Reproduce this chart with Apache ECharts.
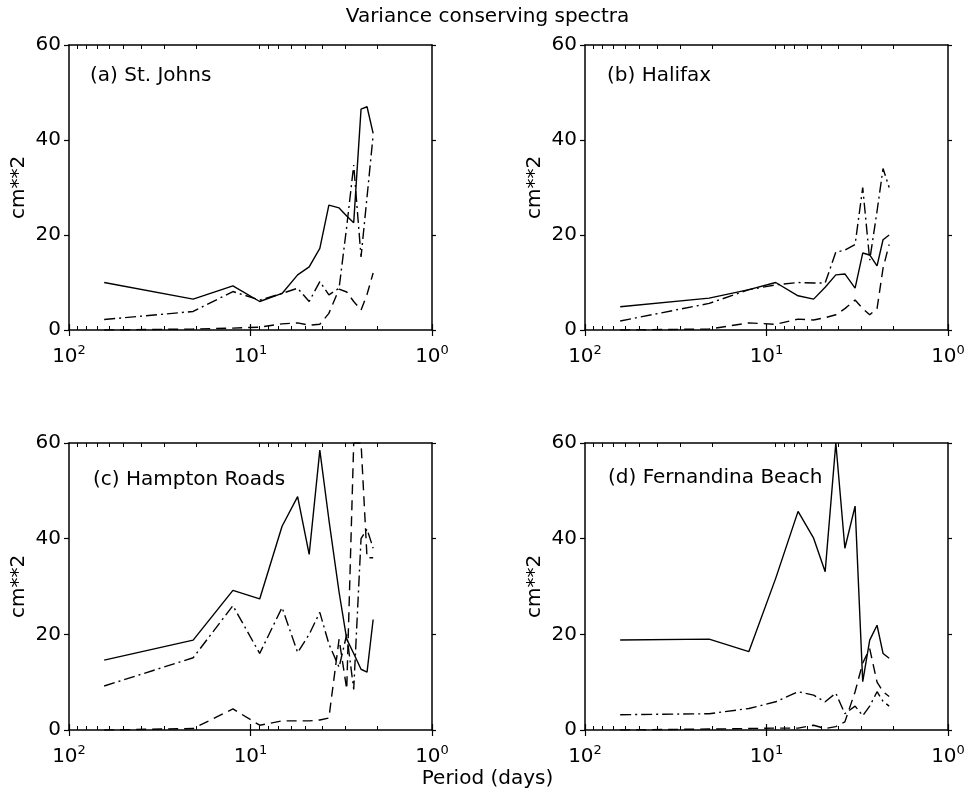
<!DOCTYPE html>
<html>
<head>
<meta charset="utf-8">
<script src="https://cdn.jsdelivr.net/npm/echarts@6/dist/echarts.min.js"></script>
<style>
  html, body { margin: 0; padding: 0; background: #fff; }
  #chart { width: 975px; height: 794px; }
</style>
</head>
<body>
<div id="chart"></div>
<script>
var chart = echarts.init(document.getElementById('chart'));

// periods (days) shared by every curve
var periods = [64, 20.7, 12.5, 8.9, 6.7, 5.5, 4.75, 4.15, 3.7, 3.25, 2.95, 2.7, 2.46, 2.28, 2.11];

// (a) St. Johns
var aSolid   = [10.0, 6.5, 9.3, 6.0, 7.7, 11.6, 13.3, 17.2, 26.3, 25.7, 24.0, 22.6, 46.5, 47.0, 41.4];
var aDashDot = [2.2, 3.9, 8.1, 6.3, 7.7, 8.8, 6.0, 10.2, 7.4, 8.8, 21.8, 34.7, 15.4, 28.0, 41.0];
var aDashed  = [0, 0.2, 0.4, 0.6, 1.3, 1.5, 1.0, 1.2, 3.5, 8.6, 8.0, 6.0, 4.2, 7.5, 12.0];

// (b) Halifax
var bSolid   = [4.9, 6.7, 8.5, 10.0, 7.2, 6.5, 9.0, 11.6, 11.8, 8.8, 16.2, 15.8, 13.5, 19.0, 20.0];
var bDashDot = [1.9, 5.6, 8.5, 9.5, 10.0, 9.9, 9.9, 16.4, 16.8, 18.0, 30.0, 14.7, 25.0, 34.0, 30.0];
var bDashed  = [0, 0.2, 1.5, 1.2, 2.3, 2.1, 2.6, 3.2, 4.5, 6.3, 4.5, 3.2, 4.5, 13.0, 18.0];

// (c) Hampton Roads
var cSolid   = [14.6, 18.8, 29.2, 27.4, 42.6, 48.8, 36.7, 58.5, 44.0, 28.8, 19.0, 16.0, 12.7, 12.1, 23.1];
var cDashDot = [9.2, 15.1, 26.0, 16.0, 25.6, 16.2, 20.0, 24.6, 18.0, 13.1, 20.0, 8.5, 40.0, 42.0, 38.0];
var cDashed  = [0, 0.3, 4.4, 1.0, 1.9, 1.9, 1.9, 2.1, 2.5, 19.0, 8.5, 60.0, 60.0, 36.0, 36.0];

// (d) Fernandina Beach
var dSolid   = [18.8, 19.0, 16.4, 31.7, 45.7, 40.1, 33.1, 60.0, 38.0, 46.8, 10.1, 18.8, 21.9, 16.0, 15.0];
var dDashDot = [3.2, 3.4, 4.5, 5.9, 8.0, 7.3, 5.9, 7.7, 3.4, 5.0, 3.0, 5.0, 8.0, 6.0, 5.0];
var dDashed  = [0, 0.2, 0.3, 0.4, 0.4, 1.0, 0.3, 0.7, 1.7, 8.0, 14.0, 17.0, 10.0, 8.0, 7.0];

var panelNames = ['(a) St. Johns', '(b) Halifax', '(c) Hampton Roads', '(d) Fernandina Beach'];
var minorPeriods = [2, 3, 4, 5, 6, 7, 8, 9, 20, 30, 40, 50, 60, 70, 80, 90];

var panels = [
  [aSolid, aDashDot, aDashed],
  [bSolid, bDashDot, bDashed],
  [cSolid, cDashDot, cDashed],
  [dSolid, dDashDot, dDashed]
];

var FONT = 'DejaVu Sans';
var grids = [
  {left: 69, top: 45, width: 363, height: 285},
  {left: 585, top: 45, width: 363, height: 285},
  {left: 69, top: 443, width: 363, height: 287},
  {left: 585, top: 443, width: 363, height: 287}
];
// where each panel name sits
var labelPos = [[85, 61], [602, 61], [88, 465], [603, 463]];

var xAxes = [], yAxes = [], series = [], titles = [];
var styles = ['solid', [11, 4, 2, 4], [10, 6]];

grids.forEach(function (g, i) {
  var base = xAxes.length;
  // main log axis (bottom)
  xAxes.push({
    type: 'log', logBase: 10, min: 1, max: 100, inverse: true, gridIndex: i,
    position: 'bottom',
    axisLine: {show: true, onZero: false, lineStyle: {color: '#000', width: 1.5}},
    axisTick: {show: true, length: 6, lineStyle: {color: '#000', width: 1.2}},
    splitLine: {show: false},
    axisLabel: {
      margin: 14,
      formatter: function (v) {
        return '{b|10}{s|' + Math.round(Math.log10(v)) + '}';
      },
      rich: {
        b: {fontFamily: FONT, fontSize: 20, color: '#000'},
        s: {fontFamily: FONT, fontSize: 13, color: '#000', padding: [0, 0, 12, 0]}
      }
    }
  });
  // minor log ticks, bottom and top
  ['bottom', 'top'].forEach(function (pos) {
    xAxes.push({
      type: 'value', min: 0, max: 2, inverse: true, gridIndex: i, position: pos,
      axisLine: {show: pos === 'top', onZero: false, lineStyle: {color: '#000', width: 1.5}},
      axisTick: {
        show: true, inside: true, length: 4,
        customValues: minorPeriods.map(function (p) { return Math.log10(p); }),
        lineStyle: {color: '#000', width: 1}
      },
      axisLabel: {show: false},
      splitLine: {show: false}
    });
  });
  // major ticks on top
  xAxes.push({
    type: 'value', min: 0, max: 2, inverse: true, gridIndex: i, position: 'top',
    axisLine: {show: false},
    axisTick: {show: true, length: 6, customValues: [0, 1, 2], lineStyle: {color: '#000', width: 1.2}},
    axisLabel: {show: false},
    splitLine: {show: false}
  });

  var yBase = yAxes.length;
  yAxes.push({
    type: 'value', min: 0, max: 60, interval: 20, gridIndex: i, position: 'left',
    name: 'cm**2', nameLocation: 'middle', nameGap: 40, nameRotate: 90,
    nameTextStyle: {fontFamily: FONT, fontSize: 20, color: '#000'},
    axisLine: {show: true, onZero: false, lineStyle: {color: '#000', width: 1.5}},
    axisTick: {show: true, length: 5, lineStyle: {color: '#000', width: 1.2}},
    axisLabel: {fontFamily: FONT, fontSize: 20, color: '#000', margin: 8},
    splitLine: {show: false}
  });
  yAxes.push({
    type: 'value', min: 0, max: 60, interval: 20, gridIndex: i, position: 'right',
    axisLine: {show: true, onZero: false, lineStyle: {color: '#000', width: 1.5}},
    axisTick: {show: true, length: 4, lineStyle: {color: '#000', width: 1.2}},
    axisLabel: {show: false},
    splitLine: {show: false}
  });

  panels[i].forEach(function (vals, k) {
    series.push({
      type: 'line',
      xAxisIndex: base,
      yAxisIndex: yBase,
      symbol: 'none',
      silent: true,
      clip: true,
      lineStyle: {color: '#000', width: 1.4, type: styles[k]},
      data: periods.map(function (p, j) { return [p, vals[j]]; })
    });
  });

  titles.push({
    text: panelNames[i],
    left: labelPos[i][0],
    top: labelPos[i][1],
    textStyle: {fontFamily: FONT, fontSize: 20, fontWeight: 'normal', color: '#000'}
  });
});

titles.push({
  text: 'Variance conserving spectra',
  left: 'center', top: 2,
  textStyle: {fontFamily: FONT, fontSize: 20, fontWeight: 'normal', color: '#000'}
});
titles.push({
  text: 'Period (days)',
  left: 'center', top: 764,
  textStyle: {fontFamily: FONT, fontSize: 20, fontWeight: 'normal', color: '#000'}
});

chart.setOption({
  backgroundColor: '#fff',
  animation: false,
  title: titles,
  grid: grids,
  xAxis: xAxes,
  yAxis: yAxes,
  series: series
});
</script>
</body>
</html>
